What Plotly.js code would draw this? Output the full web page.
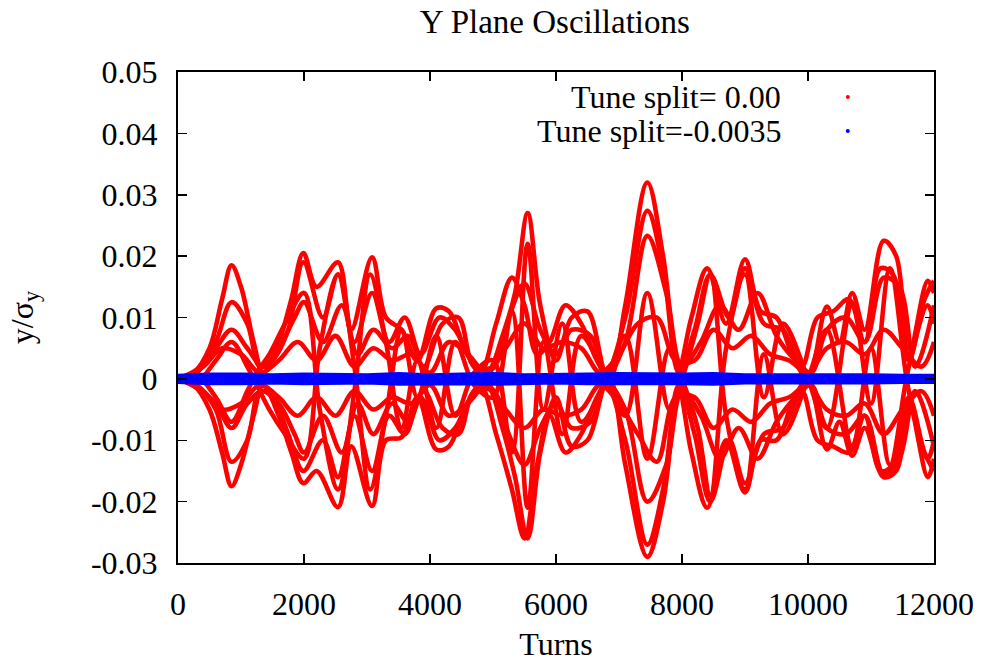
<!DOCTYPE html>
<html>
<head>
<meta charset="utf-8">
<script src="https://cdn.plot.ly/plotly-3.0.1.min.js"></script>
<style>
  html, body { margin: 0; padding: 0; background: #fff; }
  #chart { width: 982px; height: 662px; }
</style>
</head>
<body>
<div id="chart"></div>
<script>
// Vertical oscillation traces (y / sigma_y) versus turn number.
// Each red curve is one envelope track for tune split 0.00; the blue band is tune split -0.0035.

const turnsA = [0, 250, 500, 700, 850, 1000, 1200, 1350, 1600, 1800, 1990, 2200, 2540, 2750, 3080, 3300, 3550, 3800, 4100, 4300, 4550, 4800, 5050, 5300, 5500, 5700, 5900, 6150, 6400, 6650, 6850, 7100, 7450, 7700, 7950, 8150, 8400, 8700, 9000, 9250, 9500, 9750, 10000, 10300, 10500, 10700, 10900, 11200, 11400, 11600, 11900, 12000];
const upperA = [0, 0.001, 0.005, 0.013, 0.0185, 0.015, 0.006, 0.001, 0.006, 0.013, 0.0205, 0.015, 0.019, 0.008, 0.0198, 0.010, 0.008, 0.003, 0.0115, 0.011, 0.005, 0.001, 0.009, 0.0165, 0.012, 0.004, 0.006, 0.012, 0.009, 0.003, 0, 0.012, 0.032, 0.020, 0.002, 0.010, 0.018, 0.009, 0.0195, 0.011, 0.010, 0.004, 0, 0.0118, 0.006, 0.014, 0.008, 0.0225, 0.020, 0.004, 0.016, 0.014];
const lowerA = [0, -0.001, -0.005, -0.012, -0.0175, -0.014, -0.006, -0.001, -0.006, -0.012, -0.017, -0.015, -0.0209, -0.011, -0.0207, -0.010, -0.0095, -0.003, -0.0115, -0.011, -0.005, -0.001, -0.009, -0.018, -0.026, -0.014, -0.006, -0.012, -0.009, -0.003, 0, -0.014, -0.029, -0.020, -0.002, -0.012, -0.021, -0.010, -0.0185, -0.010, -0.010, -0.004, 0, -0.0115, -0.007, -0.0125, -0.008, -0.016, -0.015, -0.004, -0.016, -0.013];

const turnsB = [0, 300, 600, 850, 1100, 1300, 1500, 1750, 1990, 2300, 2540, 2800, 3080, 3350, 3600, 3850, 4150, 4400, 4650, 4900, 5150, 5350, 5550, 5750, 6000, 6250, 6500, 6800, 7100, 7450, 7700, 7950, 8200, 8450, 8750, 9000, 9300, 9600, 9900, 10150, 10400, 10650, 10900, 11150, 11350, 11600, 11850, 12000];
const upperB = [0, 0.001, 0.006, 0.0125, 0.009, 0.002, 0.003, 0.008, 0.019, 0.010, 0.017, 0.006, 0.014, 0.006, 0.010, 0.004, 0.010, 0.008, 0.003, 0.001, 0.007, 0.014, 0.027, 0.012, 0.003, 0.010, 0.011, 0.001, 0.010, 0.0274, 0.018, 0.001, 0.008, 0.017, 0.010, 0.018, 0.009, 0.008, 0.002, 0.010, 0.011, 0.013, 0.006, 0.018, 0.017, 0.003, 0.013, 0.016];
const lowerB = [0, -0.001, -0.005, -0.0135, -0.010, -0.002, -0.003, -0.009, -0.015, -0.010, -0.016, -0.006, -0.015, -0.006, -0.009, -0.003, -0.010, -0.008, -0.003, -0.001, -0.008, -0.016, -0.026, -0.012, -0.003, -0.011, -0.010, -0.001, -0.010, -0.027, -0.018, -0.001, -0.009, -0.020, -0.010, -0.017, -0.009, -0.008, -0.002, -0.010, -0.011, -0.012, -0.006, -0.015, -0.014, -0.003, -0.012, -0.015];

const turnsC = [0, 300, 600, 850, 1100, 1350, 1600, 1850, 2000, 2300, 2600, 2850, 3100, 3400, 3650, 3900, 4200, 4450, 4700, 5000, 5250, 5500, 5750, 6000, 6250, 6550, 6800, 7100, 7450, 7750, 8000, 8300, 8600, 8900, 9200, 9500, 9800, 10050, 10300, 10600, 10900, 11200, 11450, 11700, 12000];
const upperC = [0, 0.0015, 0.005, 0.008, 0.005, 0.002, 0.005, 0.010, 0.0125, 0.006, 0.012, 0.004, 0.008, 0.005, 0.007, 0.002, 0.009, 0.010, 0.002, 0.002, 0.010, 0.0155, 0.008, 0.004, 0.008, 0.007, 0.0005, 0.006, 0.0233, 0.014, 0.002, 0.006, 0.012, 0.008, 0.014, 0.007, 0.003, 0.001, 0.008, 0.010, 0.006, 0.0165, 0.015, 0.002, 0.012];
const lowerC = [0, -0.0015, -0.004, -0.008, -0.004, -0.002, -0.004, -0.009, -0.012, -0.006, -0.012, -0.004, -0.009, -0.004, -0.007, -0.002, -0.008, -0.009, -0.002, -0.002, -0.009, -0.014, -0.008, -0.004, -0.008, -0.007, -0.0005, -0.005, -0.020, -0.014, -0.002, -0.006, -0.013, -0.008, -0.013, -0.007, -0.003, -0.001, -0.008, -0.009, -0.006, -0.0155, -0.013, -0.002, -0.011];

const turnsD = [0, 400, 700, 1000, 1300, 1600, 1900, 2200, 2500, 2800, 3100, 3400, 3700, 4000, 4300, 4600, 4900, 5200, 5500, 5800, 6100, 6400, 6700, 7000, 7300, 7600, 7900, 8200, 8500, 8800, 9100, 9400, 9700, 10000, 10300, 10600, 10900, 11200, 11500, 11800, 12000];
const upperD = [0, 0.002, 0.005, 0.004, 0.001, 0.003, 0.006, 0.003, 0.007, 0.002, 0.005, 0.003, 0.004, 0.001, 0.006, 0.004, 0.001, 0.005, 0.009, 0.005, 0.006, 0.005, 0.001, 0.004, 0.009, 0.010, 0.003, 0.003, 0.008, 0.005, 0.007, 0.004, 0.003, 0.001, 0.005, 0.006, 0.004, 0.008, 0.005, 0.002, 0.006];
const lowerD = [0, -0.002, -0.005, -0.004, -0.001, -0.003, -0.006, -0.003, -0.006, -0.002, -0.005, -0.003, -0.004, -0.001, -0.006, -0.004, -0.001, -0.005, -0.008, -0.005, -0.006, -0.005, -0.001, -0.004, -0.009, -0.0135, -0.003, -0.003, -0.008, -0.005, -0.007, -0.004, -0.003, -0.001, -0.005, -0.006, -0.004, -0.009, -0.005, -0.002, -0.006];

const turnsE = [0, 300, 600, 850, 1100, 1250, 1450, 1700, 2000, 2250, 2540, 2800, 3050, 3300, 3550, 3800, 4100, 4400, 4700, 5000, 5300, 5550, 5800, 6100, 6400, 6800, 7100, 7450, 7800, 8000, 8250, 8450, 8700, 9000, 9300, 9600, 10000, 10300, 10700, 11000, 11300, 11600, 11900, 12000];
const swingE1 = [0, -0.0005, 0.003, 0.006, 0.002, -0.001, -0.005, -0.009, -0.013, 0.005, 0.017, 0.002, -0.018, -0.006, 0.008, -0.003, 0.007, -0.006, 0.001, 0.003, -0.012, 0.022, -0.005, 0.009, -0.007, 0, 0.007, -0.013, 0.005, 0, -0.008, -0.019, 0.005, 0.017, -0.003, 0.009, 0, -0.008, 0.012, -0.004, 0.018, -0.002, -0.013, -0.010];
const swingE2 = [0, 0.0005, -0.003, -0.007, -0.002, 0.001, 0.004, 0.009, 0.014, -0.005, -0.018, -0.002, 0.017, 0.006, -0.008, 0.003, -0.008, 0.006, -0.001, -0.003, 0.011, -0.021, 0.006, -0.009, 0.007, 0, -0.006, 0.014, -0.005, 0, 0.009, 0.017, -0.006, -0.018, 0.004, -0.009, 0, 0.008, -0.011, 0.005, -0.014, 0.002, 0.012, 0.009];

// Tune split -0.0035: narrow band around zero
const turnsBlue = [0, 500, 1000, 1500, 2000, 2500, 3000, 3500, 4000, 4500, 5000, 5500, 6000, 6500, 7000, 7500, 8000, 8500, 9000, 9500, 10000, 10500, 11000, 11500, 12000];
const blueTop = [0.0005, 0.0007, 0.0007, 0.0006, 0.0007, 0.0006, 0.0006, 0.0008, 0.0006, 0.0007, 0.0008, 0.0006, 0.0006, 0.0007, 0.0008, 0.0007, 0.0007, 0.0008, 0.0006, 0.0006, 0.0006, 0.0007, 0.0006, 0.0005, 0.0005];
const blueBottom = [-0.0005, -0.0007, -0.0007, -0.0006, -0.0007, -0.0006, -0.0006, -0.0008, -0.0007, -0.0007, -0.0008, -0.0007, -0.0006, -0.0007, -0.0007, -0.0006, -0.0007, -0.0008, -0.0006, -0.0006, -0.0006, -0.0007, -0.0006, -0.0005, -0.0005];

const legendLabels = ['Tune split= 0.00', 'Tune split=-0.0035'];
const yTickValues = [-0.03, -0.02, -0.01, 0, 0.01, 0.02, 0.03, 0.04, 0.05];
const yTickLabels = ['-0.03', '-0.02', '-0.01', '0', '0.01', '0.02', '0.03', '0.04', '0.05'];
const xTickValues = [0, 2000, 4000, 6000, 8000, 10000, 12000];
const xTickLabels = ['0', '2000', '4000', '6000', '8000', '10000', '12000'];

const RED = '#ff0000';
const BLUE = '#0000ff';
const FONT = '"Liberation Serif", "Times New Roman", serif';

const redTracks = [
  [turnsA, upperA], [turnsA, lowerA],
  [turnsB, upperB], [turnsB, lowerB],
  [turnsC, upperC], [turnsC, lowerC],
  [turnsD, upperD], [turnsD, lowerD],
  [turnsE, swingE1], [turnsE, swingE2]
];

const traces = redTracks.map(([x, y]) => ({
  x: x, y: y, type: 'scatter', mode: 'lines',
  line: { color: RED, width: 4.6, shape: 'spline', smoothing: 1 },
  showlegend: false, hoverinfo: 'skip'
}));

traces.push({
  x: turnsBlue, y: blueBottom, type: 'scatter', mode: 'lines',
  line: { color: BLUE, width: 4, shape: 'linear' },
  showlegend: false, hoverinfo: 'skip'
});
traces.push({
  x: turnsBlue, y: blueTop, type: 'scatter', mode: 'lines',
  fill: 'tonexty', fillcolor: BLUE,
  line: { color: BLUE, width: 4, shape: 'linear' },
  showlegend: false, hoverinfo: 'skip'
});

// Key: right-aligned labels with a small dot to their right
const keyY = [0.949, 0.880];
const keyColors = [RED, BLUE];
const annotations = legendLabels.map((t, i) => ({
  xref: 'paper', yref: 'paper', x: 0.80, y: keyY[i],
  xanchor: 'right', yanchor: 'middle', showarrow: false,
  text: t, font: { family: FONT, size: 32, color: '#000' }
}));
const shapes = keyColors.map((c, i) => ({
  type: 'circle', xref: 'paper', yref: 'paper',
  xsizemode: 'pixel', ysizemode: 'pixel',
  xanchor: 0.886, yanchor: keyY[i],
  x0: -2, x1: 2, y0: -2, y1: 2,
  fillcolor: c, line: { width: 0 }
}));

const axisCommon = {
  showgrid: false, zeroline: false,
  showline: true, linecolor: '#000', linewidth: 2, mirror: 'ticks',
  ticks: 'inside', ticklen: 9, tickwidth: 1.5, tickcolor: '#000',
  tickfont: { family: FONT, size: 32, color: '#000' }
};

const layout = {
  width: 982, height: 662,
  paper_bgcolor: '#fff', plot_bgcolor: '#fff',
  margin: { l: 178, r: 48, t: 72, b: 99 },
  title: {
    text: 'Y Plane Oscillations',
    font: { family: FONT, size: 33, color: '#000' },
    x: 0.565, xanchor: 'center', y: 0.967, yanchor: 'middle'
  },
  xaxis: Object.assign({}, axisCommon, {
    range: [0, 12000], tickmode: 'array', tickvals: xTickValues, ticktext: xTickLabels,
    ticklabelstandoff: 12,
    title: { text: 'Turns', font: { family: FONT, size: 32, color: '#000' }, standoff: 21 }
  }),
  yaxis: Object.assign({}, axisCommon, {
    range: [-0.03, 0.05], tickmode: 'array', tickvals: yTickValues, ticktext: yTickLabels,
    ticklabelstandoff: 12,
    title: { text: 'y/σ<sub>y</sub>', font: { family: FONT, size: 32, color: '#000' }, standoff: 48 }
  }),
  annotations: annotations,
  shapes: shapes,
  showlegend: false
};

Plotly.newPlot('chart', traces, layout, { displayModeBar: false, staticPlot: true });
</script>
</body>
</html>
